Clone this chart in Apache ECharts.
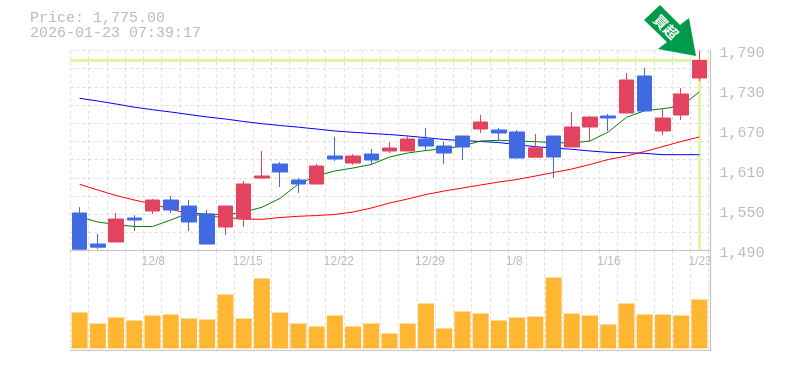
<!DOCTYPE html>
<html>
<head>
<meta charset="utf-8">
<style>html,body{margin:0;padding:0;background:#fff}#c{width:785px;height:370px}</style>
<script src="https://cdn.jsdelivr.net/npm/echarts@6/dist/echarts.min.js"></script>
</head>
<body>
<div id="c"></div>
<script>
const categories = ['12/2','12/3','12/4','12/5','12/8','12/9','12/10','12/11','12/12','12/15','12/16','12/17','12/18','12/19','12/22','12/23','12/24','12/25','12/26','12/29','12/30','1/5','1/6','1/7','1/8','1/9','1/13','1/14','1/15','1/16','1/19','1/20','1/21','1/22','1/23'];
const tickLabels = ['12/8','12/15','12/22','12/29','1/8','1/16','1/23'];
const priceTicks = [1490,1550,1610,1670,1730,1790];
// open, close, low, high
const candles = [
[1546.25,1492,1492,1555],[1499.75,1495,1492,1514.75],[1502.75,1537.25,1502.75,1546.25],[1538.75,1535.75,1519.25,1543.25],
[1549.25,1565.75,1544.75,1567.25],[1565.75,1550.75,1546.25,1571.75],[1556.75,1532.75,1519.25,1565.75],[1544.75,1499.75,1499.75,1550.75],
[1525.25,1556.75,1513.25,1556.75],[1537.25,1589.75,1525.25,1594.25],[1598.75,1601.75,1597.25,1639.25],[1619.75,1607.75,1585.25,1622.75],
[1595.75,1589.75,1576.25,1598.75],[1589.75,1616.75,1589.75,1619.75],[1631.75,1627.25,1624.25,1660.25],[1621.25,1631.75,1618.25,1634.75],
[1634.75,1625.75,1618.25,1642.25],[1639.25,1643.75,1636.25,1652.75],[1639.25,1657.25,1639.25,1663.25],[1657.25,1646.75,1639.25,1673.75],
[1646.75,1636.25,1619.75,1652.75],[1661.75,1645.25,1625.75,1661.75],[1672.25,1682.75,1666.25,1693.25],[1670.75,1666.25,1654.25,1673.75],
[1667.75,1628.75,1628.75,1670.75],[1630,1644,1630,1664.75],[1661.75,1630.25,1598.75,1661.75],[1645.25,1675.25,1645.25,1697.75],
[1675.25,1690.25,1652.75,1691.75],[1691.75,1688.75,1669.25,1694.75],[1696.25,1745.75,1696.25,1756.25],[1751.75,1699.25,1699.25,1763.75],
[1669.25,1688.75,1663.25,1702.25],[1693.25,1724.75,1685.75,1733.75],[1748.75,1775,1744.25,1790]];
const maBlue = [1718.3,1714.25,1709.75,1705,1701.2,1697.75,1694,1690.25,1687.25,1683.5,1680.2,1677.5,1675,1672.25,1669.25,1667.3,1665.5,1664,1661.75,1659.2,1656.5,1655,1653.5,1652,1648.7,1645.7,1643.75,1641.8,1639.25,1637.3,1636.7,1635.8,1633.7,1633.7,1633.7];
const maGreen = [1540.25,1532.75,1529,1526,1526,1535.75,1546.25,1544.75,1543.25,1547.75,1554.8,1568.3,1589.75,1601.75,1609.25,1613.75,1619,1630.25,1636.25,1640,1642.7,1646.75,1654.25,1655.3,1654.25,1653.2,1651.7,1651.25,1654.25,1667.75,1689.8,1699.7,1702.7,1706.75,1727.75];
const maRed = [1589.3,1580.75,1572.5,1565.75,1559.75,1552.25,1544.75,1541.75,1539.5,1537.25,1536.8,1539.5,1541.3,1542.5,1544,1547.75,1553.75,1561.25,1567.25,1574,1579.25,1583.75,1588.25,1592.75,1596.5,1601.75,1607,1612.25,1619,1626.5,1631.75,1638.5,1646,1653.5,1660.25];
const volumes = [36,25,31,28,33,34,30,29,54,30,70,36,25,22,33,22,25,15,25,45,20,37,35,28,31,32,71,35,33,24,45,34,34,33,49];
const lastPrice = 1775;
const lastDate = '1/23';
const priceText = 'Price: 1,775.00\n2026-01-23 07:39:17';
const arrowText = '買超';

const GRAY = '#bcbcbc', GRID = '#dedede', FRAME = '#c2c2c2';
const dash = {color: GRID, width: 1, type: [3, 3]};
const chart = echarts.init(document.getElementById('c'), null, {renderer: 'canvas'});
const frame = (x1, y1, x2, y2) => ({type: 'line', silent: true, z: 10,
  shape: {x1, y1, x2, y2}, style: {stroke: FRAME, lineWidth: 1.2}});
chart.setOption({
  animation: false,
  backgroundColor: '#fff',
  title: {text: priceText, left: 30, top: 11, padding: 0, itemGap: 0,
    textStyle: {color: GRAY, fontFamily: 'Liberation Mono', fontSize: 15, fontWeight: 'normal', lineHeight: 15}},
  grid: [
    {left: 70.5, top: 50.5, width: 638, height: 200},
    {left: 70.5, top: 250.5, width: 638, height: 100}
  ],
  xAxis: [
    {type: 'category', gridIndex: 0, data: categories, boundaryGap: true, position: 'bottom',
     axisLine: {show: false}, axisTick: {show: false},
     splitLine: {show: true, interval: 0, lineStyle: dash},
     axisLabel: {show: true, color: GRAY, fontFamily: 'Liberation Sans', fontSize: 12, align: 'left', margin: 5,
       padding: [0, 0, 0, -11], hideOverlap: false,
       interval: (i, v) => tickLabels.includes(v)}},
    {type: 'category', gridIndex: 1, data: categories, boundaryGap: true,
     axisLine: {show: false, onZero: false}, axisTick: {show: false}, axisLabel: {show: false},
     splitLine: {show: true, interval: 0, lineStyle: dash}}
  ],
  yAxis: [
    {type: 'value', gridIndex: 0, position: 'right', min: 1490, max: 1790,
     axisLine: {show: false}, axisTick: {show: false, customValues: priceTicks}, splitLine: {show: false},
     axisLabel: {show: true, customValues: priceTicks, color: GRAY, fontFamily: 'Liberation Mono', fontSize: 15, margin: 11,
       verticalAlign: 'top', lineHeight: 5, showMinLabel: true, showMaxLabel: true, formatter: v => v.toLocaleString('en-US')}},
    {type: 'value', gridIndex: 0, position: 'left', min: 0, max: 11, interval: 1,
     axisLine: {show: false}, axisTick: {show: false}, axisLabel: {show: false},
     splitLine: {show: true, lineStyle: dash}},
    {type: 'value', gridIndex: 1, min: -2, max: 98,
     axisLine: {show: false}, axisTick: {show: false}, axisLabel: {show: false}, splitLine: {show: false}}
  ],
  series: [
    {type: 'line', name: 'blue', xAxisIndex: 0, yAxisIndex: 0, data: maBlue, showSymbol: false, z: 2,
     lineStyle: {color: '#0000ff', width: 1},
     markLine: {silent: true, symbol: 'none', z: 1, label: {show: false}, animation: false,
       lineStyle: {color: '#e1f5a6', width: 3, type: 'solid'}, emphasis: {disabled: true},
       data: [{yAxis: lastPrice}, [{coord: [lastDate, lastPrice]}, {coord: [lastDate, 1490]}]]}},
    {type: 'line', name: 'red', xAxisIndex: 0, yAxisIndex: 0, data: maRed, showSymbol: false, z: 2,
     lineStyle: {color: '#ff0000', width: 1}},
    {type: 'line', name: 'green', xAxisIndex: 0, yAxisIndex: 0, data: maGreen, showSymbol: false, z: 2,
     lineStyle: {color: '#008000', width: 1}},
    {type: 'candlestick', xAxisIndex: 0, yAxisIndex: 0, data: candles, barWidth: 15, z: 3,
     itemStyle: {color: '#e2435f', color0: '#4169e1', borderColor: '#e2435f', borderColor0: '#4169e1', borderWidth: 1}},
    {type: 'bar', xAxisIndex: 1, yAxisIndex: 2, data: volumes, barWidth: 16, z: 3,
     itemStyle: {color: '#ffb733'}}
  ],
  graphic: [
    frame(70, 250.5, 710.5, 250.5),
    frame(70, 350.5, 710.5, 350.5),
    frame(710.5, 50, 710.5, 351),
    {type: 'polygon', z: 20, silent: true,
     shape: {points: [[660,5],[680,25],[689,18],[696,56],[658,49],[667,42],[644,20]]},
     style: {fill: '#009b4a'}},
    {type: 'text', z: 21, silent: true, x: 666, y: 27, rotation: -Math.PI / 4,
     style: {text: arrowText, fill: '#fff', font: 'bold 14px "Noto Sans CJK JP"', align: 'center', verticalAlign: 'middle'}}
  ]
});
</script>
</body>
</html>
